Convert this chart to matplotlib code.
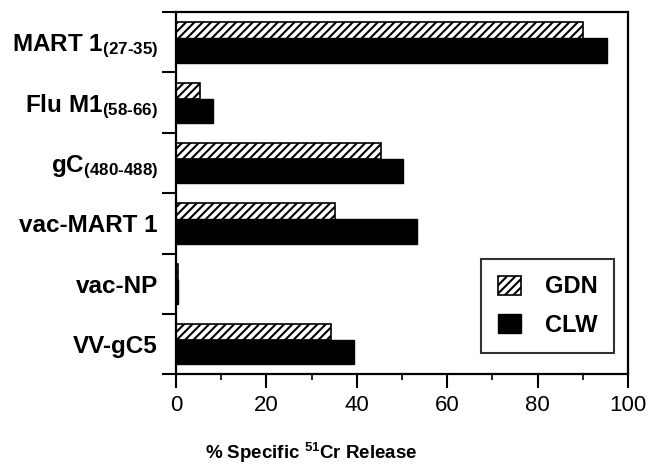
import numpy as np
import matplotlib.pyplot as plt
from matplotlib.ticker import FixedLocator, MultipleLocator

# data
targets = ["MART 1$_{\\mathrm{(27\\text{-}35)}}$", "Flu M1$_{\\mathrm{(58\\text{-}66)}}$",
           "gC$_{\\mathrm{(480\\text{-}488)}}$", "vac-MART 1", "vac-NP", "VV-gC5"]
gdn = [90, 5.3, 45.3, 35.2, 0.5, 34.4]
clw = [95.3, 8.2, 50.2, 53.3, 0.5, 39.4]
x_ticks = [0, 20, 40, 60, 80, 100]

plt.rcParams['font.family'] = ['Liberation Sans', 'DejaVu Sans']
plt.rcParams['mathtext.fontset'] = 'custom'
plt.rcParams['mathtext.rm'] = 'Liberation Sans:bold'
plt.rcParams['mathtext.it'] = 'Liberation Sans:bold'
plt.rcParams['mathtext.bf'] = 'Liberation Sans:bold'
plt.rcParams['hatch.linewidth'] = 1.5

fig = plt.figure(figsize=(6.59, 4.66), dpi=100)
ax = fig.add_axes([0.267, 0.197, 0.686, 0.777])

y = np.arange(len(targets))
# hatched bar sits above the solid bar within each band
ax.barh(y - 0.195, gdn, height=0.27, color='white', edgecolor='black',
        hatch='////', linewidth=1.2, label='GDN')
ax.barh(y + 0.135, clw, height=0.40, color='black', edgecolor='black',
        linewidth=1.0, label='CLW')

ax.set_xlim(0, 100)
ax.set_ylim(len(targets) - 0.5, -0.5)

ax.set_yticks(y)
ax.set_yticklabels(targets, fontsize=17.5, fontweight='bold')
ax.yaxis.set_minor_locator(FixedLocator(np.arange(-0.5, len(targets), 1.0)))
ax.tick_params(axis='y', which='major', length=0, pad=13)
ax.tick_params(axis='y', which='minor', length=10, width=1.5, direction='out')

ax.set_xticks(x_ticks)
ax.xaxis.set_minor_locator(MultipleLocator(10))
ax.tick_params(axis='x', which='major', length=10, width=1.5, direction='out',
               labelsize=16, pad=5)
ax.tick_params(axis='x', which='minor', length=4, width=1.2, direction='out')

for s in ax.spines.values():
    s.set_linewidth(1.6)

ax.set_xlabel("% Specific $^{\\mathrm{51}}$Cr Release", fontsize=13.5,
              fontweight='bold')
ax.xaxis.set_label_coords(0.30, -0.184)

leg = ax.legend(loc='lower right', bbox_to_anchor=(0.969, 0.058),
                prop={'weight': 'bold', 'size': 17}, frameon=True,
                fancybox=False, handlelength=1.0, handleheight=0.85,
                borderpad=0.7, labelspacing=0.65, handletextpad=1.0,
                borderaxespad=0)
leg.get_frame().set_edgecolor('black')
leg.get_frame().set_linewidth(1.5)

fig.savefig("out.png", dpi=100)
